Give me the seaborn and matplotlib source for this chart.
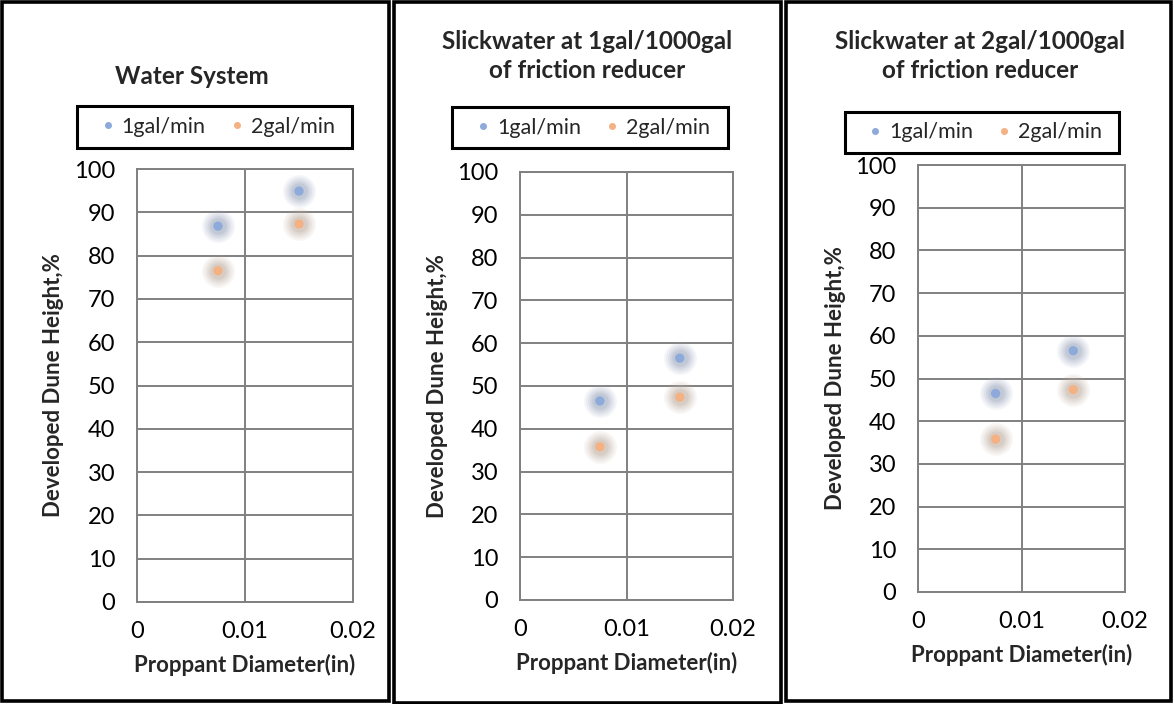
import matplotlib
matplotlib.use("Agg")
import matplotlib.pyplot as plt
from matplotlib.patches import Rectangle
import numpy as np
import pandas as pd
import seaborn as sns

# Proppant diameter (in) and developed dune height (%) per flow rate
diameter = [0.0075, 0.015]
series_names = ["1gal/min", "2gal/min"]

water_1gpm = [86.8, 94.9]
water_2gpm = [76.5, 87.3]

slick1_1gpm = [46.5, 56.5]
slick1_2gpm = [35.8, 47.4]

slick2_1gpm = [46.5, 56.5]
slick2_2gpm = [35.8, 47.4]

titles = ["Water System",
          "Slickwater at 1gal/1000gal\nof friction reducer",
          "Slickwater at 2gal/1000gal\nof friction reducer"]
x_ticks = [0, 0.01, 0.02]
x_ticklabels = ["0", "0.01", "0.02"]
y_ticks = list(range(0, 101, 10))

colors = {"1gal/min": "#8eaadb", "2gal/min": "#f4b183"}
glow = {"1gal/min": "#9aa6be", "2gal/min": "#bfaea2"}

sns.set_theme(style="white")
plt.rcParams["font.family"] = ["Lato", "DejaVu Sans"]

W, H = 1174, 704
fig = plt.figure(figsize=(W / 100, H / 100), dpi=100)


def frac(x0, y0, x1, y1):
    return [x0 / W, 1 - y1 / H, (x1 - x0) / W, (y1 - y0) / H]


# axes rectangles in pixel coordinates (left, top, right, bottom)
axes_px = [(137, 169, 353, 602), (520, 172, 733, 600), (918, 165, 1125, 592)]
title_px = [(192, 76), (587, 56), (980, 56)]
legend_px = [(77, 106, 352, 148), (452, 107, 728, 148), (845, 112, 1119, 153)]
frames_px = [(2, 2, 389, 701), (394, 2, 781, 703), (786, 2, 1171, 701)]

panels = [(water_1gpm, water_2gpm), (slick1_1gpm, slick1_2gpm), (slick2_1gpm, slick2_2gpm)]

for i, (s1, s2) in enumerate(panels):
    df = pd.DataFrame({
        "diameter": diameter * 2,
        "height": s1 + s2,
        "series": [series_names[0]] * len(s1) + [series_names[1]] * len(s2),
    })
    ax = fig.add_axes(frac(*axes_px[i]))

    # soft glow behind each marker
    for size, alpha in [(560, 0.10), (430, 0.12), (320, 0.15), (220, 0.2), (140, 0.25)]:
        for name in series_names:
            sub = df[df["series"] == name]
            ax.scatter(sub["diameter"], sub["height"], s=size, color=glow[name],
                       alpha=alpha, linewidths=0, zorder=3)

    sns.scatterplot(data=df, x="diameter", y="height", hue="series",
                    palette=colors, s=45, edgecolor="none", ax=ax, zorder=4,
                    legend=True)

    ax.set_xlim(0, 0.02)
    ax.set_ylim(0, 100)
    ax.set_xticks(x_ticks)
    ax.set_xticklabels(x_ticklabels)
    ax.set_yticks(y_ticks)
    ax.grid(True, color="#808080", linewidth=1.4)
    ax.set_axisbelow(True)
    for sp in ax.spines.values():
        sp.set_color("#808080")
        sp.set_linewidth(1.4)
    ax.tick_params(axis="both", length=0, labelsize=17, colors="#000000")
    ax.tick_params(axis="y", pad=15.5)
    ax.tick_params(axis="x", pad=14)
    ax.set_xlabel("Proppant Diameter(in)", fontsize=16, fontweight="bold", labelpad=8)
    ax.set_ylabel("Developed Dune Height,%", fontsize=16, fontweight="bold", labelpad=7)

    handles, labels = ax.get_legend_handles_labels()
    ax.get_legend().remove()
    lx0, ly0, lx1, ly1 = legend_px[i]
    leg = ax.legend(handles, labels, ncol=2, loc="center",
                    bbox_to_anchor=((lx0 + lx1) / 2 / W + 2 / W, 1 - (ly0 + ly1) / 2 / H),
                    bbox_transform=fig.transFigure, fontsize=15.5, frameon=False,
                    handletextpad=0.2, columnspacing=1.0, borderpad=0.2,
                    markerscale=0.75, handlelength=0.9)
    fig.patches.append(Rectangle((lx0 / W, 1 - ly1 / H), (lx1 - lx0) / W, (ly1 - ly0) / H,
                                 transform=fig.transFigure, fill=False,
                                 edgecolor="black", linewidth=2.2))

    tx, ty = title_px[i]
    fig.text(tx / W, 1 - ty / H, titles[i], ha="center", va="center",
             fontsize=17.5, fontweight="bold", linespacing=1.32)

    fx0, fy0, fx1, fy1 = frames_px[i]
    fig.patches.append(Rectangle((fx0 / W, 1 - fy1 / H), (fx1 - fx0) / W, (fy1 - fy0) / H,
                                 transform=fig.transFigure, fill=False,
                                 edgecolor="black", linewidth=2.6))

fig.savefig("out.png", dpi=100, facecolor="white")
